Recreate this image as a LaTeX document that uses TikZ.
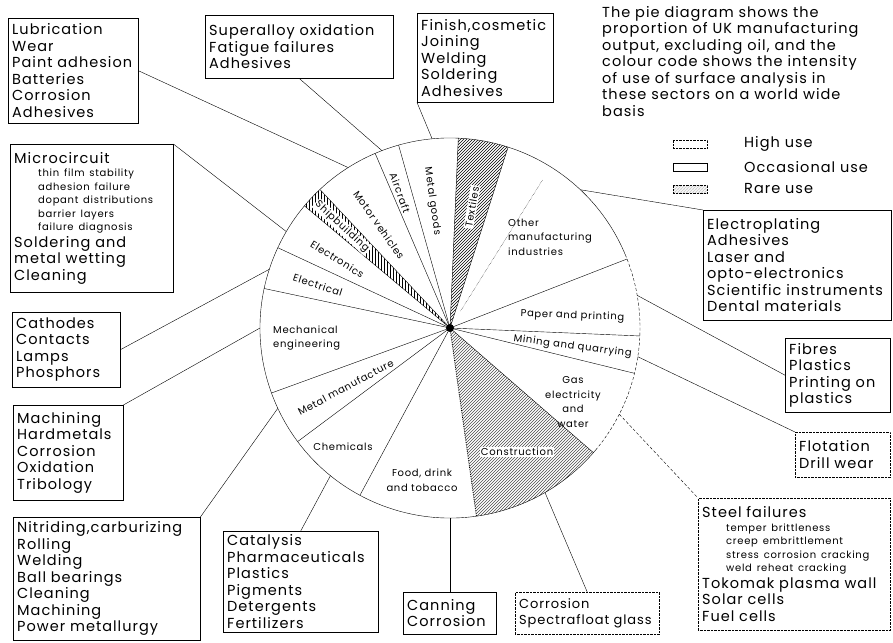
\documentclass[tikz,border=0pt]{standalone}
\usepackage{fontspec}
\setmainfont{Poppins}[LetterSpace=7]
\usetikzlibrary{patterns}

\newcommand{\bigtxt}{\fontsize{14.5}{16.5}\selectfont}
\newcommand{\smalltxt}{\fontsize{10}{13.5}\selectfont}
\newcommand{\piefont}{\fontsize{10}{14.5}\selectfont}

\tikzset{
	box/.style={draw, anchor=north west, align=left, inner xsep=4pt, inner ysep=2pt, font=\bigtxt},
	highbox/.style={box, densely dotted},
	leader/.style={thin},
	sectorlabel/.style={font=\piefont, inner sep=1pt, align=center},
	keybox/.style={minimum width=34pt, minimum height=8pt, inner sep=0pt},
}

\begin{document}
\begin{tikzpicture}[x=1pt, y=-1pt]
	\useasboundingbox (0,0) rectangle (893,642);

	% the pie, angles anticlockwise from east
	\begin{scope}[shift={(450,328)}, yscale=-1]
		\fill [pattern=north east lines] (0,0) -- (72.2:190) arc (72.2:87.5:190) -- cycle;
		\fill [pattern=vertical lines] (0,0) -- (133.2:190) arc (133.2:140:190) -- cycle;
		\fill [pattern=north east lines, pattern color=black!70] (0,0) -- (278:190) arc (278:319:190) -- cycle;
		\draw (22:190) arc (22:320:190);
		\draw [densely dashed] (-40:190) arc (-40:22:190);
		\foreach \a in {87.5, 105.7, 113.2, 133.2, 140, 155, 168, 200, 216.7, 241.7, 319, 346.2, 357.6, 21.3, 72.2}
			\draw (0,0) -- (\a:190);
		\draw [thick, densely dotted] (0,0) -- (278:190);
		\draw [densely dotted] (58:20) -- (58:175);
		\fill (0,0) circle (4);

		\node [sectorlabel, rotate=80, fill=white] (lTextiles) at (79.7:123) {Textiles};
		\node [sectorlabel, rotate=-82] (lMetalgoods) at (98:128) {Metal goods};
		\node [sectorlabel, rotate=-70] (lAircraft) at (110.3:144) {Aircraft};
		\node [sectorlabel, rotate=-55] (lMotor) at (124.6:125) {Motor vehicles};
		\node [sectorlabel, rotate=-43, fill=white] (lShip) at (136.9:148) {Shipbuilding};
		\node [sectorlabel, rotate=-32] (lElectronics) at (148.6:132) {Electronics};
		\node [sectorlabel, rotate=-18] (lElectrical) at (162:139) {Electrical};
		\node [sectorlabel, align=left, anchor=west] (lMech) at (-178,-10) {Mechanical\\engineering};
		\node [sectorlabel, rotate=28] (lMetalman) at (209.6:120) {Metal manufacture};
		\node [sectorlabel] (lChem) at (228:160) {Chemicals};
		\node [sectorlabel] (lFood) at (259.6:155) {Food, drink\\and tobacco};
		\node [sectorlabel, fill=white] (lConstr) at (298.4:141) {Construction};
		\node [sectorlabel] (lGas) at (329:143.5) {Gas\\electricity\\and\\water};
		\node [sectorlabel, rotate=-7.5] (lMining) at (351.4:124) {Mining and quarrying};
		\node [sectorlabel, rotate=-2] (lPaper) at (5.6:123) {Paper and printing};
		\node [sectorlabel, align=left, anchor=west] (lOther) at (57,91) {Other\\manufacturing\\industries};

		% where the leaders meet the rim
		\coordinate (pOther) at (46.7:190);
		\coordinate (pPaper) at (9.9:190);
		\coordinate (pMining) at (351.3:190);
		\coordinate (pGas) at (333:190);
		\coordinate (pConstr) at (300:190);
		\coordinate (pFood) at (270:190);
		\coordinate (pChem) at (231:190);
		\coordinate (pMetalman) at (205:190);
		\coordinate (pMech) at (180:190);
		\coordinate (pElectrical) at (162:190);
		\coordinate (pElectronics) at (149.5:190);
		\coordinate (pMotor) at (122.4:190);
		\coordinate (pAircraft) at (111:190);
		\coordinate (pMetalgoods) at (95.4:190);
	\end{scope}

	% note and key
	\node [anchor=north west, align=left, inner sep=0pt, font=\bigtxt] (note) at (602,6)
		{The pie diagram shows the\\proportion of UK manufacturing\\output, excluding oil, and the\\colour code shows the intensity\\of use of surface analysis in\\these sectors on a world wide\\basis};
	\node [keybox, draw, densely dotted] (kHigh) at (690,144) {};
	\node [keybox, draw] (kOcc) at (690,167) {};
	\node [keybox, draw, densely dotted, pattern=north east lines] (kRare) at (690,189) {};
	\node [anchor=west, inner sep=0pt, font=\bigtxt] (tHigh) at (744,144) {High use};
	\node [anchor=west, inner sep=0pt, font=\bigtxt] (tOcc) at (744,167) {Occasional use};
	\node [anchor=west, inner sep=0pt, font=\bigtxt] (tRare) at (744,189) {Rare use};

	% boxes
	\node [box, text width=122pt, minimum height=105pt] (lub) at (8,18)
		{Lubrication\\Wear\\Paint adhesion\\Batteries\\Corrosion\\Adhesives};
	\node [box, text width=155pt, minimum height=148pt] (micro) at (10,144)
		{{Microcircuit\par}
		{\smalltxt\leftskip=24pt thin film stability\\adhesion failure\\dopant distributions\\barrier layers\\failure diagnosis\par}
		{Soldering and\\metal wetting\\Cleaning\par}};
	\node [box, text width=100pt, minimum height=75pt] (cath) at (12,312)
		{Cathodes\\Contacts\\Lamps\\Phosphors};
	\node [box, text width=102pt, minimum height=95pt] (mach) at (13,405)
		{Machining\\Hardmetals\\Corrosion\\Oxidation\\Tribology};
	\node [box, text width=179pt, minimum height=123pt] (nitr) at (13,517)
		{Nitriding,carburizing\\Rolling\\Welding\\Ball bearings\\Cleaning\\Machining\\Power metallurgy};
	\node [box, text width=147pt, minimum height=101pt] (cat) at (223,531)
		{Catalysis\\Pharmaceuticals\\Plastics\\Pigments\\Detergents\\Fertilizers};
	\node [box, text width=85pt, minimum height=42pt] (can) at (403,592)
		{Canning\\Corrosion};
	\node [highbox, text width=136pt, minimum height=42pt, font=\fontsize{13}{16.5}\selectfont] (sfg) at (515,592)
		{Corrosion\\Spectrafloat glass};
	\node [highbox, text width=184pt, minimum height=132pt] (steel) at (698,498)
		{{Steel failures\par}
		{\smalltxt\leftskip=24pt temper brittleness\\creep embrittlement\\stress corrosion cracking\\weld reheat cracking\par}
		{Tokomak plasma wall\\Solar cells\\Fuel cells\par}};
	\node [highbox, text width=87pt, minimum height=45pt] (flot) at (795,432)
		{Flotation\\Drill wear};
	\node [box, text width=97pt, minimum height=74pt] (fib) at (785,338)
		{Fibres\\Plastics\\Printing on\\plastics};
	\node [box, text width=180pt, minimum height=110pt] (elec) at (703,210)
		{Electroplating\\Adhesives\\Laser and\\opto-electronics\\Scientific instruments\\Dental materials};
	\node [box, text width=128pt, minimum height=89pt] (fin) at (417,13)
		{Finish,cosmetic\\Joining\\Welding\\Soldering\\Adhesives};
	\node [box, text width=180pt, minimum height=63pt] (sup) at (205,15)
		{Superalloy oxidation\\Fatigue failures\\Adhesives};

	% leaders from the boxes to the rim
	\draw [leader] (lub.east) -- (pMotor);
	\draw [leader] (micro.north east) -- (pElectronics);
	\draw [leader] (cath.east) -- (pElectrical);
	\draw [leader] (mach.north east) -- (pMech);
	\draw [leader] (nitr.north east) -- (pMetalman);
	\draw [leader] (cat.north) -- (pChem);
	\draw [leader] (can.north) -- (can.north |- pFood);
	\draw [leader] (sfg.north) -- (pConstr);
	\draw [leader, densely dashed] (pGas) -- (steel.north west);
	\draw [leader] (pMining) -- (flot.north west);
	\draw [leader] (pPaper) -- (fib.west);
	\draw [leader] (pOther) -- (elec.north west);
	\draw [leader] (sup.south) -- (pAircraft);
	\draw [leader] (fin.south west) -- (pMetalgoods);
\end{tikzpicture}
\end{document}
